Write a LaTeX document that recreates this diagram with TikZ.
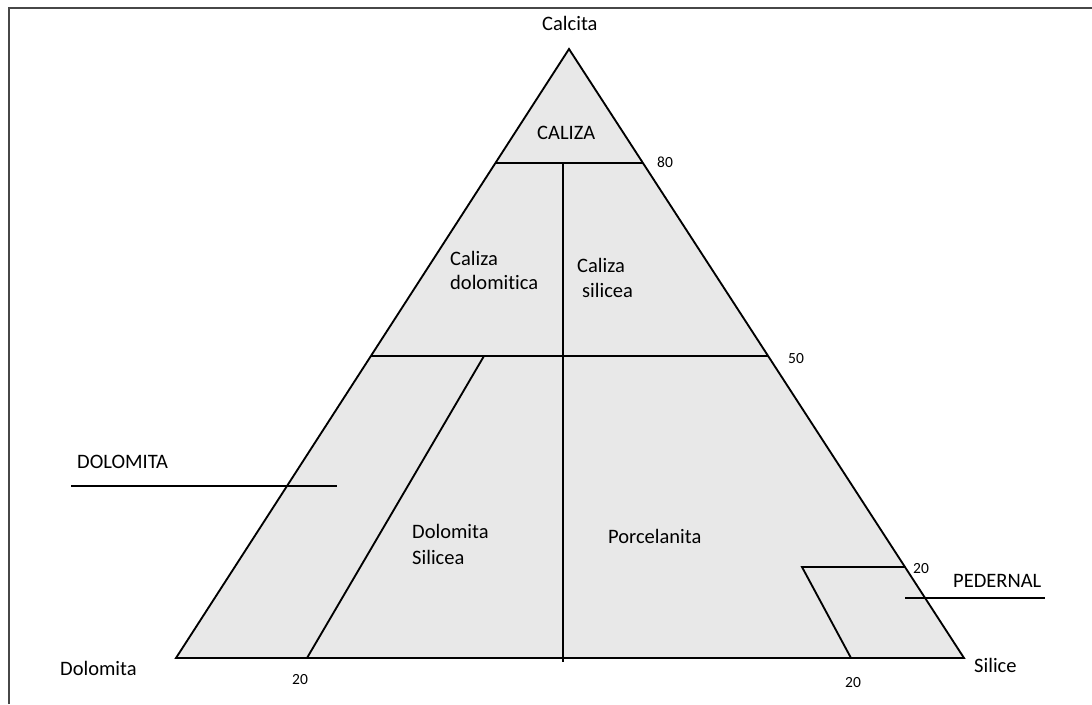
\documentclass[tikz,border=0pt]{standalone}
\usepackage{fontspec}
\setmainfont{Carlito}[Ligatures=NoCommon]
\usetikzlibrary{calc}
\begin{document}
\begin{tikzpicture}[x=1pt,y=-1pt,
  lbl/.style={font=\fontsize{20.5}{26}\selectfont, inner sep=0pt, anchor=base west},
  num/.style={font=\fontsize{15.5}{18}\selectfont, inner sep=0pt, anchor=base west},
  edgeline/.style={line width=1.85pt, draw=black},
  frameline/.style={line width=1.4pt, draw=black!72}]
\useasboundingbox (0,0) rectangle (1092,704);
% frame
\coordinate (F1) at (9,704);
\coordinate (F2) at (9,8);
\coordinate (F3) at (1092,8);
\draw[frameline] (F1) -- (F2) -- (F3);
% triangle
\coordinate (A) at (569,49);
\coordinate (L) at (176,658);
\coordinate (R) at (964,658);
\fill[black!9] (A) -- (L) -- (R) -- cycle;
% internal lines
\coordinate (P80L) at ($(A)!0.1872!(L)$);
\coordinate (P80R) at ($(A)!0.1872!(R)$);
\coordinate (P50L) at ($(A)!0.5041!(L)$);
\coordinate (P50R) at ($(A)!0.5041!(R)$);
\coordinate (VT) at (563,163);
\coordinate (VB) at (563,662);
\coordinate (DT) at (484,356);
\coordinate (DB) at (307,658);
\coordinate (PT) at (802,567);
\coordinate (PE) at ($(A)!0.8506!(R)$);
\coordinate (PB) at (851,658);
\draw[edgeline] (P80L) -- (P80R);
\draw[edgeline] (P50L) -- (P50R);
\draw[edgeline] (VT) -- (VB);
\draw[edgeline] (DT) -- (DB);
\draw[edgeline] (PE) -- (PT) -- (PB);
% label lines
\coordinate (DL1) at (71,486);
\coordinate (DL2) at (337,486);
\coordinate (PL1) at (905,598);
\coordinate (PL2) at (1045,598);
\draw[edgeline] (DL1) -- (DL2);
\draw[edgeline] (PL1) -- (PL2);
% outline
\draw[edgeline, line join=miter] (A) -- (L) -- (R) -- cycle;
% texts
\node[lbl] (calcita) at (542,30) {Calcita};
\node[lbl] (dolomita) at (60,675) {Dolomita};
\node[lbl] (silice) at (974,672) {Silice};
\node[lbl] (caliza) at (537,139) {CALIZA};
\node[lbl] (calizadol1) at (450,265) {Caliza};
\node[lbl] (calizadol2) at (450,289) {dolomitica};
\node[lbl] (calizasil1) at (577,272) {Caliza};
\node[lbl] (calizasil2) at (582,297) {silicea};
\node[lbl] (dolsil1) at (412,538) {Dolomita};
\node[lbl] (dolsil2) at (412,564) {Silicea};
\node[lbl] (porc) at (608,543) {Porcelanita};
\node[lbl] (dolomitacap) at (77,468) {DOLOMITA};
\node[lbl] (pedernal) at (953,587) {PEDERNAL};
\node[num] (n80) at (657,167) {80};
\node[num] (n50) at (788,363) {50};
\node[num] (n20a) at (913,573) {20};
\node[num] (n20b) at (292,684) {20};
\node[num] (n20c) at (845,687) {20};
\end{tikzpicture}
\end{document}
